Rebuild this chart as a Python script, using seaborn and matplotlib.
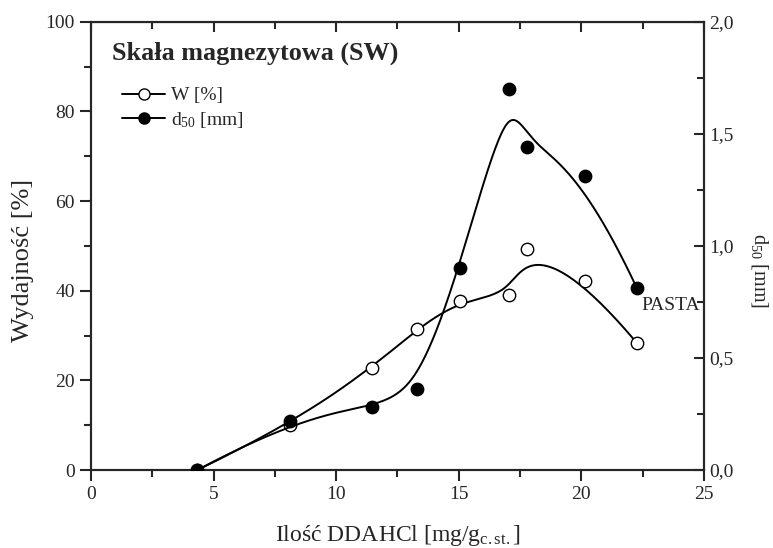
import numpy as np
import pandas as pd
import matplotlib
matplotlib.use("Agg")
import matplotlib.pyplot as plt
from matplotlib.lines import Line2D
from matplotlib.ticker import MultipleLocator, FuncFormatter
import seaborn as sns

# data
dose = [4.34, 8.10, 11.48, 13.28, 15.04, 17.05, 17.80, 20.13, 22.27]
w_pct = [0.0, 10.0, 22.8, 31.4, 37.8, 39.0, 49.2, 42.2, 28.3]
d50_mm = [0.0, 0.22, 0.28, 0.36, 0.90, 1.70, 1.44, 1.31, 0.81]


def bspline(x, y, k=3, n=300):
    # clamped B-spline using the points as control points (Origin style)
    P = np.column_stack([x, y])
    m = len(P)
    knots = np.concatenate([np.zeros(k), np.linspace(0, 1, m - k + 1), np.ones(k)])
    t = np.linspace(0, 1, n)
    N = np.zeros((n, len(knots) - 1))
    for i in range(len(knots) - 1):
        N[:, i] = (knots[i] <= t) & (t < knots[i + 1])
    N[t == 1, m - 1] = 1
    for p in range(1, k + 1):
        newN = np.zeros((n, len(knots) - 1 - p))
        for i in range(len(knots) - 1 - p):
            a = knots[i + p] - knots[i]
            b = knots[i + p + 1] - knots[i + 1]
            term = 0
            if a > 0:
                term = term + (t - knots[i]) / a * N[:, i]
            if b > 0:
                term = term + (knots[i + p + 1] - t) / b * N[:, i + 1]
            newN[:, i] = term
        N = newN
    c = N @ P
    return pd.DataFrame({"x": c[:, 0], "y": c[:, 1]})


sns.set_style("ticks")
plt.rcParams["font.family"] = ["Liberation Serif", "DejaVu Serif"]
plt.rcParams["mathtext.fontset"] = "custom"
plt.rcParams["mathtext.rm"] = "Liberation Serif"
plt.rcParams["mathtext.it"] = "Liberation Serif"

fig, ax = plt.subplots(figsize=(7.73, 5.48), dpi=100)
fig.subplots_adjust(left=0.1177, right=0.9107, top=0.9604, bottom=0.1423)
ax2 = ax.twinx()

cw = bspline(dose, w_pct)
cd = bspline(dose, d50_mm)
sns.lineplot(data=cw, x="x", y="y", ax=ax, sort=False, estimator=None, color="black", lw=1.4)
sns.lineplot(data=cd, x="x", y="y", ax=ax2, sort=False, estimator=None, color="black", lw=1.4)
sns.scatterplot(x=dose, y=w_pct, ax=ax, s=80, marker="o", facecolor="white", edgecolor="black", linewidth=1.0, zorder=5)
sns.scatterplot(x=dose, y=d50_mm, ax=ax2, s=80, marker="o", color="black", edgecolor="black", linewidth=1.0, zorder=5)

ax.set_xlim(0, 25)
ax.set_ylim(0, 100)
ax2.set_ylim(0, 2.0)
ax.xaxis.set_major_locator(MultipleLocator(5))
ax.xaxis.set_minor_locator(MultipleLocator(2.5))
ax.yaxis.set_major_locator(MultipleLocator(20))
ax.yaxis.set_minor_locator(MultipleLocator(10))
ax2.yaxis.set_major_locator(MultipleLocator(0.5))
ax2.yaxis.set_minor_locator(MultipleLocator(0.25))
ax2.yaxis.set_major_formatter(FuncFormatter(lambda v, p: f"{v:.1f}".replace(".", ",")))

for a in (ax, ax2):
    for s in a.spines.values():
        s.set_visible(True)
        s.set_linewidth(1.5)
ax.tick_params(axis="both", which="both", direction="out", width=1.5, labelsize=14)
ax.tick_params(axis="both", which="major", length=8)
ax.tick_params(axis="both", which="minor", length=5)
ax.tick_params(axis="x", which="both", top=False)
ax2.tick_params(axis="y", which="both", direction="in", width=1.5, labelsize=14)
ax2.tick_params(axis="y", which="major", length=7)
ax2.tick_params(axis="y", which="minor", length=5)

sec = ax.secondary_xaxis("top")
sec.xaxis.set_major_locator(MultipleLocator(5))
sec.xaxis.set_minor_locator(MultipleLocator(2.5))
sec.tick_params(which="both", direction="in", width=1.5, labeltop=False)
sec.tick_params(which="major", length=7)
sec.tick_params(which="minor", length=5)

ax.set_xlabel("Ilość DDAHCl [mg/g$_{\\mathrm{c.st.}}$]", fontsize=17)
ax.xaxis.set_label_coords(0.5, -0.118)
ax.set_ylabel("Wydajność [%]", fontsize=19)
ax.yaxis.set_label_coords(-0.093, 0.468)
ax2.set_ylabel("d$_{50}$ [mm]", fontsize=14.5, rotation=-90)
ax2.yaxis.set_label_coords(1.108, 0.446)
ax2.set_xlabel("")

ax.text(0.034, 0.930, "Skała magnezytowa (SW)", transform=ax.transAxes, fontsize=18.8,
        fontweight="bold", va="center", ha="left")
ax.text(0.994, 0.368, "PASTA", transform=ax.transAxes, fontsize=14, ha="right", va="center")

handles = [
    Line2D([], [], color="black", lw=1.4, marker="o", markersize=8, mfc="white", mec="black"),
    Line2D([], [], color="black", lw=1.4, marker="o", markersize=8, mfc="black", mec="black"),
]
ax.legend(handles, ["W [%]", "d$_{50}$ [mm]"], loc="upper left", bbox_to_anchor=(0.05, 0.855),
          frameon=False, fontsize=14, handlelength=2.25, handletextpad=0.3, labelspacing=0.3,
          borderaxespad=0, borderpad=0)

fig.savefig("out.png", dpi=100)
